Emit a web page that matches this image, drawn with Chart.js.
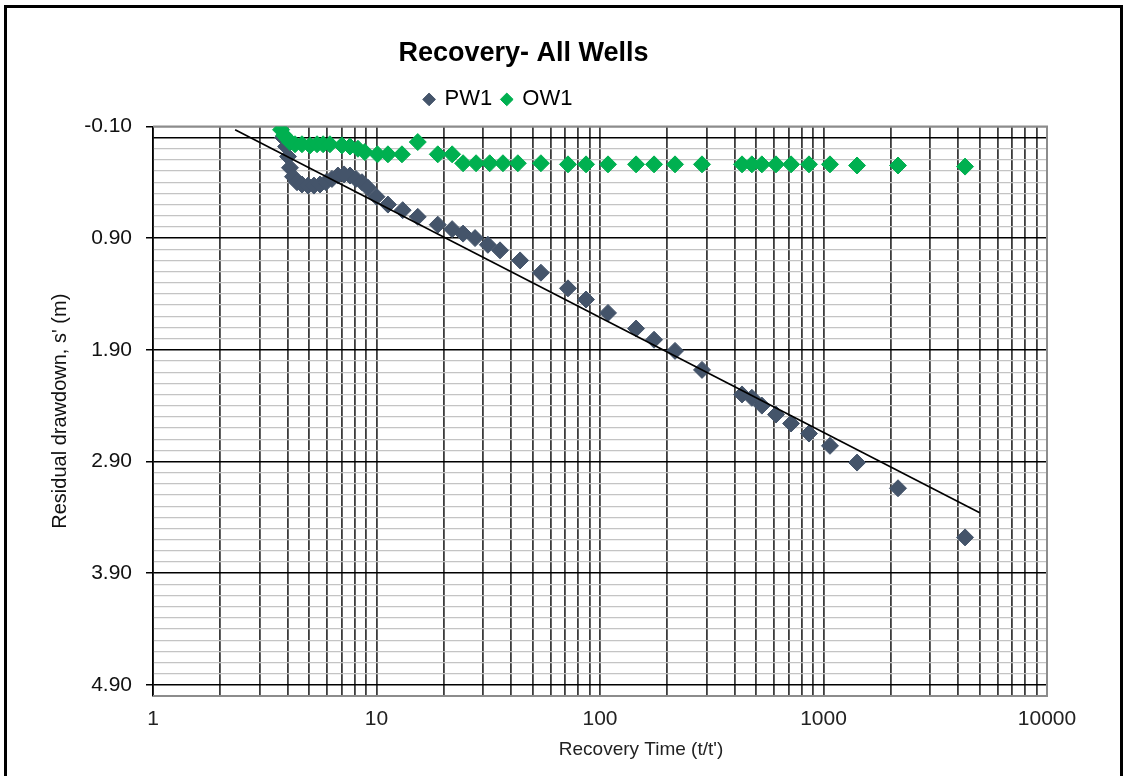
<!DOCTYPE html>
<html>
<head>
<meta charset="utf-8">
<script src="https://cdn.jsdelivr.net/npm/chart.js@4"></script>
<style>
html,body{margin:0;padding:0;background:#fff;}
#wrap{position:relative;width:1126px;height:776px;overflow:hidden;background:#fff;}
#frame{position:absolute;left:4px;top:5px;width:1113px;height:900px;border:3px solid #000;pointer-events:none;}
canvas{display:block;}
</style>
</head>
<body>
<div id="wrap"><canvas id="c" width="1126" height="776"></canvas><div id="frame"></div></div>
<script>
// ---- data ----
const PW1_T = [3.82, 3.94, 4.02, 4.10, 4.23, 4.41, 4.64, 4.94, 5.25, 5.59,
               5.94, 6.32, 6.72, 7.16, 7.61, 8.09, 8.61, 9.16, 10.0, 11.25,
               13.1, 15.3, 18.8, 21.8, 24.4, 27.6, 31.5, 35.7, 43.9, 54.4,
               71.9, 86.6, 108.6, 145, 174.5, 216.6, 286, 432, 478, 530,
               613, 716, 861, 1069, 1413, 2155, 4299];
const PW1_S = [0.00, 0.08, 0.17, 0.27, 0.35, 0.40, 0.42, 0.43, 0.43, 0.42,
               0.40, 0.37, 0.34, 0.33, 0.34, 0.37, 0.40, 0.45, 0.53, 0.60,
               0.65, 0.71, 0.78, 0.82, 0.86, 0.90, 0.96, 1.01, 1.10, 1.21,
               1.35, 1.45, 1.57, 1.71, 1.81, 1.91, 2.08, 2.30, 2.33, 2.40,
               2.48, 2.56, 2.65, 2.76, 2.91, 3.14, 3.58];
const OW1_T = [3.74, 3.86, 3.98, 4.10, 4.32, 4.64, 5.04, 5.42, 5.77, 6.19,
               7.0, 7.61, 8.26, 8.86, 10.1, 11.25, 13.0, 15.3, 18.8, 21.8,
               24.4, 27.9, 32.1, 36.8, 42.9, 54.4, 71.9, 86.6, 108.6, 145,
               174.5, 216.6, 286, 432, 478, 530, 613, 716, 861, 1069,
               1413, 2155, 4299];
const OW1_S = [-0.07, -0.02, 0.01, 0.04, 0.06, 0.06, 0.07, 0.06, 0.06, 0.06,
               0.07, 0.08, 0.10, 0.13, 0.15, 0.15, 0.15, 0.04, 0.15, 0.15,
               0.23, 0.23, 0.23, 0.23, 0.23, 0.23, 0.24, 0.24, 0.24, 0.24,
               0.24, 0.24, 0.24, 0.24, 0.24, 0.24, 0.24, 0.24, 0.24, 0.24,
               0.25, 0.25, 0.26];
const TREND_T = [2.33, 5000];
const TREND_S = [-0.07, 3.36];

const SERIES_NAMES = ['PW1', 'OW1'];
const X_TICK_LABELS = ['1', '10', '100', '1000', '10000'];
const Y_TICK_LABELS = ['-0.10', '0.90', '1.90', '2.90', '3.90', '4.90'];
const X_MIN = 1, X_MAX = 10000;
const Y_MIN = -0.1, Y_MAX = 5.0, Y_MINOR_STEP = 0.1;

// ---- helpers ----
const FONT = "'Liberation Sans', Arial, sans-serif";
const pts = (xs, ys) => xs.map((x, i) => ({ x: x, y: ys[i] }));
const round1 = v => Math.round(v * 10) / 10;

const yGrid = [];
for (let i = 0; round1(Y_MIN + i * Y_MINOR_STEP) <= Y_MAX + 1e-9; i++) yGrid.push(round1(Y_MIN + i * Y_MINOR_STEP));
const xGrid = [];
for (let e = 0; Math.pow(10, e) < X_MAX; e++) for (let m = 1; m < 10; m++) xGrid.push(m * Math.pow(10, e));
xGrid.push(X_MAX);

const yLabelFor = v => { const l = Y_TICK_LABELS.find(s => Math.abs(parseFloat(s) - v) < 1e-6); return l === undefined ? '' : l; };
const isYMajor = v => yLabelFor(v) !== '';

const LEGEND_EXTRA = 6;
const LEGEND_SHIFT = -25;
const XTITLE_SHIFT = 41;

const tweaks = {
  id: 'tweaks',
  afterInit(chart) {
    const lg = chart.legend;
    if (lg) {
      const fit = lg.fit.bind(lg);
      lg.fit = function () { fit(); this.height += LEGEND_EXTRA; };
    }
  },
  afterLayout(chart) {
    if (chart.legend) { chart.legend.left += LEGEND_SHIFT; chart.legend.right += LEGEND_SHIFT; }
    const xs = chart.scales.x; xs.left += XTITLE_SHIFT; xs.right += XTITLE_SHIFT;
  },
  beforeDatasetsDraw(chart) {
    const { ctx, chartArea: a } = chart;
    ctx.save();
    ctx.strokeStyle = '#8c8c8c';
    ctx.lineWidth = 2;
    ctx.beginPath();
    ctx.moveTo(a.left, a.top);
    ctx.lineTo(a.right, a.top);
    ctx.lineTo(a.right, a.bottom);
    ctx.lineTo(a.left, a.bottom);
    ctx.stroke();
    ctx.restore();
  }
};

new Chart(document.getElementById('c'), {
  type: 'scatter',
  data: {
    datasets: [
      { label: SERIES_NAMES[0], data: pts(PW1_T, PW1_S), pointStyle: 'rectRot', pointRadius: 8.5, pointHoverRadius: 8.5,
        backgroundColor: '#44546A', borderColor: '#44546A', borderWidth: 1, showLine: false, order: 2 },
      { label: SERIES_NAMES[1], data: pts(OW1_T, OW1_S), pointStyle: 'rectRot', pointRadius: 8.5, pointHoverRadius: 8.5,
        backgroundColor: '#00B050', borderColor: '#00B050', borderWidth: 1, showLine: false, order: 1 },
      { label: 'trend', data: pts(TREND_T, TREND_S), showLine: true, pointRadius: 0, borderColor: '#000',
        backgroundColor: '#000', borderWidth: 1.6, order: 0 }
    ]
  },
  options: {
    responsive: false,
    animation: false,
    devicePixelRatio: 1,
    events: [],
    layout: { padding: { left: 0, right: 79, top: 0, bottom: 0 } },
    plugins: {
      title: { display: true, text: 'Recovery- All Wells', color: '#000',
               font: { family: FONT, size: 27, weight: 'bold' }, padding: { top: 37, bottom: 9 } },
      legend: { display: true, position: 'top',
        labels: { usePointStyle: true, pointStyle: 'rectRot', boxWidth: 9, boxHeight: 9, color: '#000',
                  font: { family: FONT, size: 22 }, padding: 10,
                  sort: (a, b) => a.datasetIndex - b.datasetIndex,
                  filter: item => item.datasetIndex < 2 } },
      tooltip: { enabled: false }
    },
    scales: {
      x: {
        type: 'logarithmic', position: 'bottom', min: X_MIN, max: X_MAX,
        afterBuildTicks: s => { s.ticks = xGrid.map(v => ({ value: v })); },
        afterFit: s => { s.height = 80; },
        ticks: { autoSkip: false, maxRotation: 0, minRotation: 0, padding: 11, color: '#222',
                 font: { family: FONT, size: 21 },
                 callback: v => { const l = X_TICK_LABELS.find(s => Number(s) === v); return l === undefined ? '' : l; } },
        grid: { color: '#3c3c3c', lineWidth: 1.8, drawTicks: false },
        border: { display: false },
        title: { display: true, text: "Recovery Time (t/t')", color: '#222',
                 font: { family: FONT, size: 19 }, padding: { top: 0, bottom: 15 } }
      },
      y: {
        type: 'linear', position: 'left', reverse: true, min: Y_MIN, max: Y_MAX,
        afterBuildTicks: s => { s.ticks = yGrid.map(v => ({ value: v })); },
        afterFit: s => { s.width = 153; },
        ticks: { autoSkip: false, padding: 14, color: '#111', font: { family: FONT, size: 21 },
                 callback: v => yLabelFor(v) },
        grid: {
          color: c => {
            const v = c.tick ? c.tick.value : NaN;
            if (Math.abs(v - Y_MIN) < 1e-6) return '#8c8c8c';
            if (Math.abs(v) < 1e-6 || isYMajor(v)) return '#000';
            return '#c4c4c4';
          },
          lineWidth: c => {
            const v = c.tick ? c.tick.value : NaN;
            return (Math.abs(v) < 1e-6 || isYMajor(v)) ? 1.5 : 1.2;
          },
          tickLength: 7,
          tickWidth: 1.5,
          tickColor: c => (c.tick && isYMajor(c.tick.value)) ? '#000' : 'rgba(0,0,0,0)'
        },
        border: { display: true, color: '#000', width: 1.6 },
        title: { display: true, text: "Residual drawdown, s' (m)", color: '#111',
                 font: { family: FONT, size: 20 }, padding: { top: 48, bottom: 0 } }
      }
    }
  },
  plugins: [tweaks]
});
</script>
</body>
</html>
